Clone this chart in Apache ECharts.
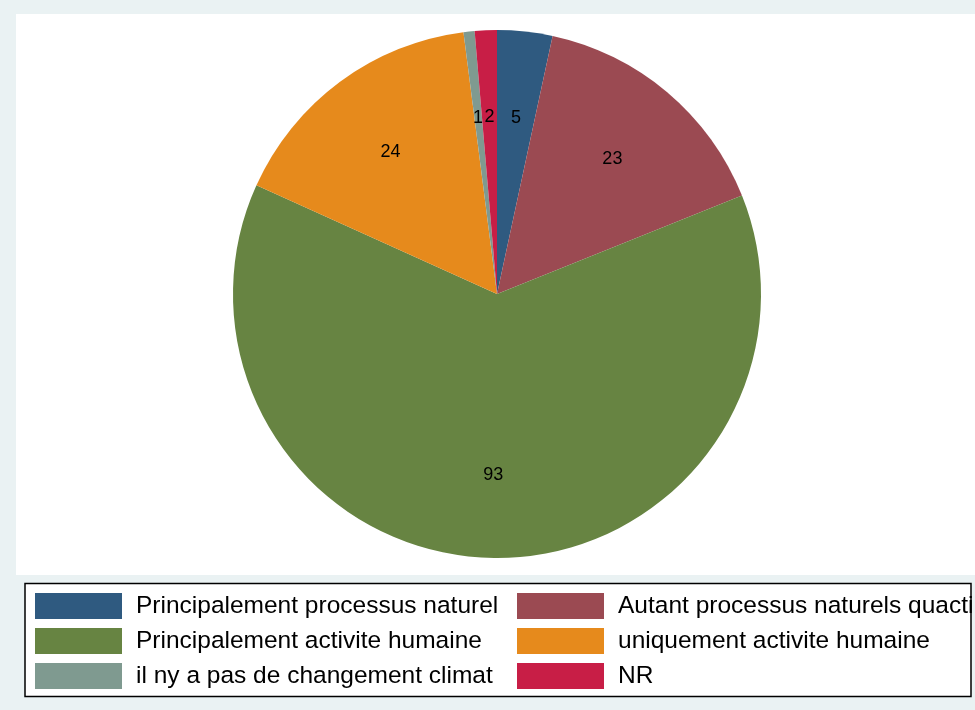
<!DOCTYPE html>
<html>
<head>
<meta charset="utf-8">
<script src="https://cdn.jsdelivr.net/npm/echarts@6/dist/echarts.min.js"></script>
<style>html,body{margin:0;padding:0;background:#EAF2F3;}#c{width:975px;height:710px;}</style>
</head>
<body>
<div id="c"></div>
<script>
const categories = [
  "Principalement processus naturel",
  "Autant processus naturels quactivite humaine",
  "Principalement activite humaine",
  "uniquement activite humaine",
  "il ny a pas de changement climat",
  "NR"
];
const values = [5, 23, 93, 24, 1, 2];
const colors = ["#2F5A80", "#9B4A52", "#678442", "#E68A1C", "#7F9A90", "#C81E46"];

const chart = echarts.init(document.getElementById('c'), null, {renderer: 'canvas'});
const font = '"Liberation Sans", Arial, Helvetica, sans-serif';

const pieData = categories.map((n, i) => ({name: n, value: values[i], itemStyle: {color: colors[i]}}));

const legendPos = [
  [35, 593], [517, 593],
  [35, 628], [517, 628],
  [35, 663], [517, 663]
];
const legends = categories.map((n, i) => ({
  data: [n],
  left: legendPos[i][0],
  top: legendPos[i][1],
  padding: 0,
  itemWidth: 87,
  itemHeight: 26,
  icon: 'rect',
  selectedMode: false,
  itemStyle: {borderWidth: 0},
  textStyle: Object.assign({
    fontFamily: font, fontSize: 24.5, color: '#000', padding: [0, 0, 0, 9]
  }, i === 1 ? {width: 360, overflow: 'truncate', ellipsis: ''} : {})
}));

chart.setOption({
  animation: false,
  backgroundColor: '#EAF2F3',
  graphic: [
    {type: 'rect', z: -10, shape: {x: 16, y: 14, width: 959, height: 561}, style: {fill: '#FFFFFF'}},
    {type: 'rect', z: -9, shape: {x: 25, y: 583.5, width: 946, height: 113}, style: {fill: '#FFFFFF', stroke: '#000', lineWidth: 1.5}}
  ],
  legend: legends,
  series: [
    {
      type: 'pie',
      center: [497, 294],
      radius: [0, 264],
      startAngle: 90,
      clockwise: true,
      silent: true,
      label: {show: false},
      labelLine: {show: false},
      itemStyle: {borderWidth: 0},
      data: pieData
    },
    {
      type: 'pie',
      center: [497, 296],
      radius: [88, 264],
      startAngle: 90,
      clockwise: true,
      silent: true,
      legendHoverLink: false,
      label: {show: true, position: 'inside', formatter: '{c}', color: '#000', fontFamily: font, fontSize: 18},
      labelLine: {show: false},
      itemStyle: {color: 'rgba(0,0,0,0)', borderWidth: 0},
      data: categories.map((n, i) => ({name: n + ' ', value: values[i]}))
    }
  ]
});
</script>
</body>
</html>
